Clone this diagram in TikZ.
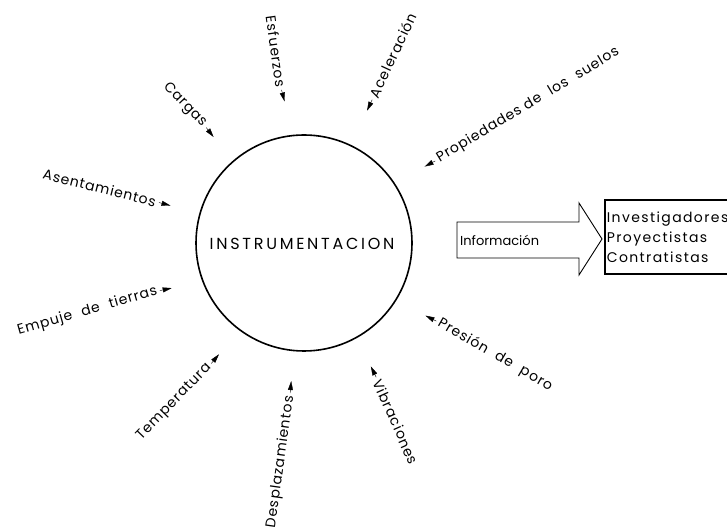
\documentclass[tikz,border=0pt]{standalone}
\usepackage{fontspec}
\setmainfont{Poppins}
\usetikzlibrary{arrows.meta}
\newcommand{\gap}{\hspace{0.7em}}
\begin{document}
\begin{tikzpicture}[x=1pt,y=1pt,
  lbl/.style={font=\fontsize{14}{16}\selectfont\addfontfeature{LetterSpace=6}, inner sep=1pt},
  tip/.style={-{Triangle[length=9pt,width=5pt]}, shorten <=2pt, line width=0.4pt},
  hub/.style={circle, draw, line width=1.6pt, minimum size=216pt, inner sep=0pt},
  flow/.style={line width=0.9pt, line join=miter},
  audience/.style={draw, line width=1.6pt, align=left, inner sep=2pt, minimum height=74pt,
    font=\fontsize{14}{20}\selectfont\addfontfeature{LetterSpace=10}},
]
\useasboundingbox (0,0) rectangle (727,529);

% central instrumentation circle
\node[hub] (c) at (304,286) {};
\node[font=\fontsize{16}{18}\selectfont\addfontfeature{LetterSpace=17}] (title) at (302,285) {INSTRUMENTACION};

% quantities measured, pointing in toward the circle
\node[lbl, rotate=-46, anchor=east] (cargas) at (205,403) {Cargas};
\draw[tip] (cargas.east) -- ++(-52:14);

\node[lbl, rotate=-82, anchor=east] (esf) at (281,441) {Esfuerzos};
\draw[tip] (esf.east) -- ++(-75:14);

\node[lbl, rotate=65, anchor=west] (acel) at (373,431) {Aceleración};
\draw[tip] (acel.west) -- ++(245:14);

\node[lbl, rotate=31, anchor=west] (prop) at (437,369) {Propiedades de\gap los\gap suelos};
\draw[tip] (prop.west) -- ++(208:14);

\node[lbl, rotate=-14, anchor=east] (asent) at (157,327) {Asentamientos};
\draw[tip] (asent.east) -- ++(-15:14);

\node[lbl, rotate=16, anchor=east] (emp) at (158,238) {Empuje\gap de\gap tierras};
\draw[tip] (emp.east) -- ++(12:14);

\node[lbl, rotate=-30, anchor=west] (pres) at (438,207) {Presión\gap de\gap poro};
\draw[tip] (pres.west) -- ++(153:14);

\node[lbl, rotate=-66, anchor=west] (vib) at (377,150) {Vibraciones};
\draw[tip] (vib.west) -- ++(116:14);

\node[lbl, rotate=82, anchor=east] (despl) at (290,134) {Desplazamientos};
\draw[tip] (despl.east) -- ++(85:14);

\node[lbl, rotate=46, anchor=east] (temp) at (210,164) {Temperatura};
\draw[tip] (temp.east) -- ++(50:14);

% information flow arrow and its recipients
\node[anchor=west, inner sep=1pt, font=\fontsize{13}{15}\selectfont] (info) at (459,289) {Información};
\draw[flow] (457,307) -- (579,307) -- (579,326) -- (602,290) -- (579,254) -- (579,271) -- (457,271) -- cycle;

\node[audience, anchor=west] (aud) at (604,292) {Investigadores\\Proyectistas\\Contratistas};
\end{tikzpicture}
\end{document}
